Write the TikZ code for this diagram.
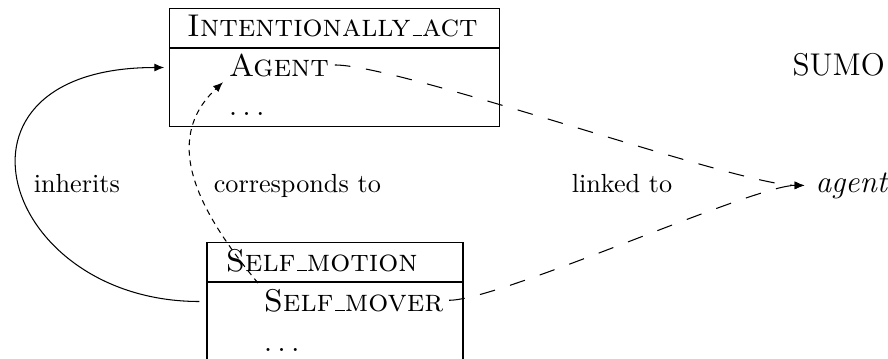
\documentclass[tikz,border=0pt]{standalone}
\usetikzlibrary{arrows.meta}
% classic short underscore rule and spaced ellipsis
\newcommand\lowbar{\leavevmode\kern.06em\vbox{\hrule width.3em}}
\newcommand\rowdots{.\kern1.95pt.\kern1.95pt.}
\begin{document}
\begin{tikzpicture}[x=0.3817pt, y=-0.3817pt,
  framebox/.style={draw, line width=0.4pt, minimum width=125.6pt, minimum height=44.7pt, inner sep=0pt},
  smallframe/.style={framebox, minimum width=97.7pt},
  rowtext/.style={anchor=base west, inner sep=2pt, font=\large},
  titletext/.style={anchor=base, inner sep=2pt, font=\large},
  edgelabel/.style={anchor=base west, inner sep=2pt},
  tip/.style={-{Latex[length=3.8pt,width=3.1pt]}},
  linkline/.style={tip, dash pattern=on 6pt off 6pt},
  corrline/.style={tip, dash pattern=on 2.2pt off 1.8pt},
]
\useasboundingbox (0,0) rectangle (888,358);

% frame boxes
\node[framebox] (intentbox) at (334.5,67.5) {};
\node[smallframe] (selfbox) at (335,301.5) {};
\coordinate (split1) at (0,48);
\coordinate (split2) at (0,282);
\draw (intentbox.west |- split1) -- (intentbox.east |- split1);
\draw (selfbox.west |- split2) -- (selfbox.east |- split2);

% frame contents
\node[titletext] (intenttitle) at (332.5,36) {\textsc{Intentionally\lowbar act}};
\node[rowtext] (agent) at (223,76) {\textsc{Agent}};
\node[rowtext] (intentdots) at (223,115) {\rowdots};

\node[rowtext] (selftitle) at (220,271) {\textsc{Self\lowbar motion}};
\node[rowtext] (mover) at (258,311) {\textsc{Self\lowbar mover}};
\node[rowtext] (selfdots) at (258,351) {\rowdots};

% ontology side
\node[anchor=base west, inner sep=0pt, font=\large] (sumo) at (792,75) {SUMO};
\node[anchor=base west, inner sep=4pt, font=\large] (sumoagent) at (804.5,192) {\textit{agent}};

% connector labels
\node[edgelabel] (inheritslbl) at (28,192) {inherits};
\node[edgelabel] (corrlbl) at (208,192) {corresponds to};
\node[edgelabel] (linkedlbl) at (566,192) {linked to};

% connectors
\draw[tip, shorten <=2.7pt, shorten >=2pt] (selfbox.west)
  .. controls +(-206,0) and +(-240,0) .. (intentbox.west);
\draw[corrline] (mover.north west)
  .. controls +(-58,-70) and +(-63,59) .. (agent.south west);
\draw[linkline] (agent.east) to[out=0, in=180, looseness=0.35] (sumoagent.west);
\draw[linkline] (mover.east) to[out=0, in=180, looseness=0.35] (sumoagent.west);
\end{tikzpicture}
\end{document}
